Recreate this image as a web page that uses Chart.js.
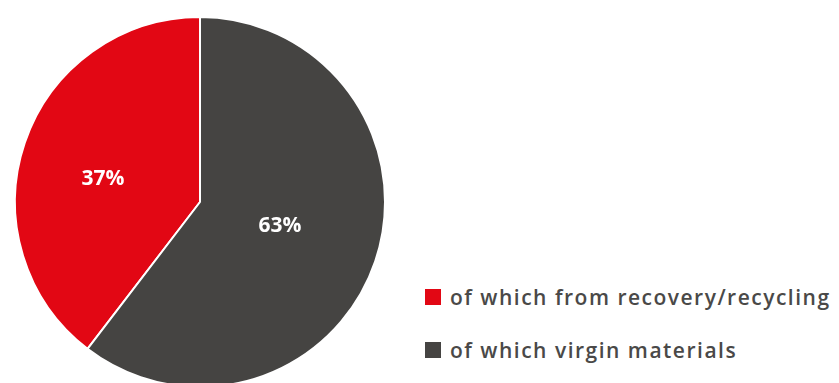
<!DOCTYPE html>
<html>
<head>
<meta charset="utf-8">
<script src="https://cdn.jsdelivr.net/npm/chart.js@4/dist/chart.umd.min.js"></script>
<style>
  html, body { margin: 0; padding: 0; background: #fff; width: 839px; height: 383px; overflow: hidden; }
  #wrap { position: relative; width: 839px; height: 383px; }
  #pieChart { position: absolute; left: 0; top: 0; }
  #legend { position: absolute; left: 425px; top: 281px; font-family: "Open Sans", sans-serif; font-weight: 600; font-size: 21px; letter-spacing: 1.5px; color: #4a4948; }
  #legend .item { display: flex; align-items: center; height: 32px; margin-bottom: 21px; white-space: nowrap; }
  #legend .box { width: 16px; height: 16px; margin-right: 9px; }
</style>
</head>
<body>
<div id="wrap">
  <canvas id="pieChart" width="400" height="404"></canvas>
  <div id="legend"></div>
</div>
<script>
// slice shares as drawn, and the printed labels
var categories = ["of which from recovery/recycling", "of which virgin materials"]
var values = [39.6, 60.4]
var valueLabels = ["37%", "63%"]
var colors = ['#e20714', '#454442']

var total = values.reduce((acc, v) => acc + v, 0)

// white percentage text inside each slice
var sliceLabels = {
  id: 'sliceLabels',
  afterDatasetsDraw(chart, args, opts) {
    var ctx = chart.ctx
    var meta = chart.getDatasetMeta(0)
    ctx.save()
    ctx.fillStyle = '#fff'
    ctx.font = 'bold 21px "Open Sans", sans-serif'
    ctx.textAlign = 'center'
    ctx.textBaseline = 'middle'
    meta.data.forEach((arc, i) => {
      var mid = (arc.startAngle + arc.endAngle) / 2 + opts.shift[i]
      var r = arc.outerRadius * opts.dist[i]
      ctx.fillText(valueLabels[i], arc.x + Math.cos(mid) * r, arc.y + Math.sin(mid) * r)
    })
    ctx.restore()
  }
}

var ctxP = document.getElementById("pieChart").getContext('2d')
var myPieChart = new Chart(ctxP, {
  type: 'pie',
  data: {
    labels: categories,
    datasets: [{
      data: values,
      backgroundColor: colors,
      borderColor: '#fff',
      borderWidth: 2
    }]
  },
  options: {
    responsive: false,
    animation: false,
    rotation: -values[0] / total * 360,
    layout: { padding: { left: 14, right: 14, top: 16, bottom: 16 } },
    plugins: {
      legend: { display: false },
      tooltip: { enabled: false },
      sliceLabels: { dist: [0.54, 0.45], shift: [-0.09, -0.04] }
    }
  },
  plugins: [sliceLabels]
})

var legendHtml = categories.map((name, i) => {
  return `<div class="item"><span class="box" style="background:${colors[i]}"></span><span>${name}</span></div>`
}).join('')
document.getElementById('legend').innerHTML = legendHtml
</script>
</body>
</html>
